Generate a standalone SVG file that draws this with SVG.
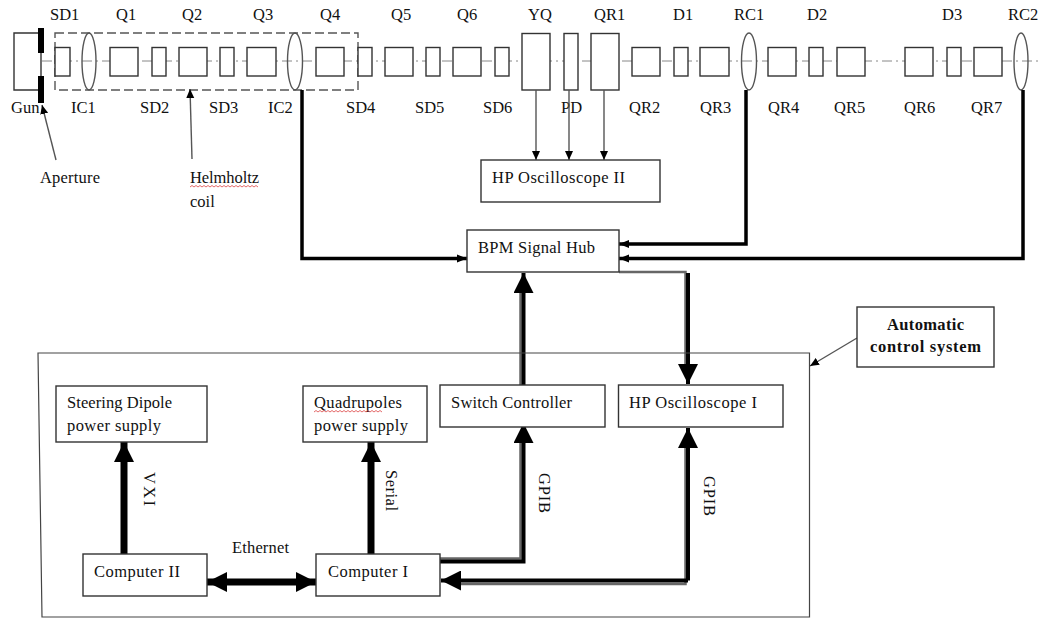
<svg xmlns="http://www.w3.org/2000/svg" width="1041" height="620" viewBox="0 0 1041 620">
<defs>
<marker id="big" markerUnits="userSpaceOnUse" markerWidth="20" markerHeight="20" refX="20" refY="10" orient="auto"><path d="M0 0L20 10L0 20Z" fill="#000"/></marker>
<marker id="bigStart" markerUnits="userSpaceOnUse" markerWidth="20" markerHeight="20" refX="0" refY="10" orient="auto"><path d="M20 0L0 10L20 20Z" fill="#000"/></marker>
<marker id="mid" markerUnits="userSpaceOnUse" markerWidth="10" markerHeight="10" refX="10" refY="5" orient="auto"><path d="M0 1L10 5L0 9Z" fill="#000"/></marker>
<marker id="small" markerUnits="userSpaceOnUse" markerWidth="9" markerHeight="9" refX="9" refY="4.5" orient="auto"><path d="M0 0.5L9 4.5L0 8.5Z" fill="#000"/></marker>
</defs>
<style>
text{font-family:"Liberation Serif","Times New Roman",serif;font-size:16.5px;fill:#111}
.bold{font-weight:700}
.b{fill:#fff;stroke:#333;stroke-width:1.4}
.t{fill:none;stroke:#333;stroke-width:1.4}
.e{fill:none;stroke:#555;stroke-width:1.4}
.thick{fill:none;stroke:#000;stroke-width:7}
.hv{fill:none;stroke:#000;stroke-width:3.5}
.gr{fill:none;stroke:#666;stroke-width:2.5}
.bk{fill:none;stroke:#000;stroke-width:4}
.thin{fill:none;stroke:#555;stroke-width:1.4}
.sq{fill:none;stroke:#d44;stroke-width:.8}
</style>
<rect width="1041" height="620" fill="#fff"/>
<g id="beamline">
<path d="M42 61H1041" fill="none" stroke="#888" stroke-width="1" stroke-dasharray="10 4 2 4"/>
<path class="t" d="M42 33H14V90H42"/>
<path d="M41 28V103" stroke="#333" stroke-width="1.4"/>
<rect x="38" y="28" width="6" height="25" fill="#000"/>
<rect x="38" y="76" width="6" height="27" fill="#000"/>
<rect x="55" y="33" width="303" height="57" fill="none" stroke="#555" stroke-width="1.4" stroke-dasharray="9 4"/>
</g>
<g id="elements">
<rect class="b" x="55" y="47.500" width="15" height="28.500"/>
<rect class="b" x="110" y="47.500" width="28" height="28.500"/>
<rect class="b" x="152" y="47.500" width="14" height="28.500"/>
<rect class="b" x="179" y="47.500" width="28" height="28.500"/>
<rect class="b" x="220" y="47.500" width="14" height="28.500"/>
<rect class="b" x="247" y="47.500" width="29" height="28.500"/>
<rect class="b" x="316" y="47.500" width="28" height="28.500"/>
<rect class="b" x="358" y="47.500" width="14" height="28.500"/>
<rect class="b" x="385" y="47.500" width="28" height="28.500"/>
<rect class="b" x="426" y="47.500" width="14" height="28.500"/>
<rect class="b" x="453" y="47.500" width="28" height="28.500"/>
<rect class="b" x="495" y="47.500" width="14" height="28.500"/>
<rect class="b" x="522" y="33.500" width="28" height="56.500"/>
<rect class="b" x="564" y="33.500" width="14" height="56.500"/>
<rect class="b" x="591" y="33.500" width="28" height="56.500"/>
<rect class="b" x="632" y="47.500" width="28" height="28.500"/>
<rect class="b" x="674" y="47.500" width="14" height="28.500"/>
<rect class="b" x="700" y="47.500" width="29" height="28.500"/>
<rect class="b" x="768" y="47.500" width="28" height="28.500"/>
<rect class="b" x="809" y="47.500" width="14" height="28.500"/>
<rect class="b" x="837" y="47.500" width="28" height="28.500"/>
<rect class="b" x="905" y="47.500" width="28" height="28.500"/>
<rect class="b" x="947" y="47.500" width="14" height="28.500"/>
<rect class="b" x="974" y="47.500" width="28" height="28.500"/>
<ellipse class="e" cx="89" cy="61.500" rx="7" ry="28.500"/>
<ellipse class="e" cx="295" cy="61.500" rx="7.500" ry="28.500"/>
<ellipse class="e" cx="749" cy="61.500" rx="7.500" ry="28.500"/>
<ellipse class="e" cx="1021" cy="61.500" rx="7" ry="28.500"/>
</g>
<g id="labels">
<text x="50" y="20">SD1</text><text x="116" y="20">Q1</text><text x="182" y="20">Q2</text><text x="253" y="20">Q3</text><text x="320" y="20">Q4</text><text x="391" y="20">Q5</text><text x="457" y="20">Q6</text><text x="528" y="20">YQ</text><text x="594" y="20">QR1</text><text x="673" y="20">D1</text><text x="734" y="20">RC1</text><text x="807" y="20">D2</text><text x="942" y="20">D3</text><text x="1008" y="20">RC2</text>
<text x="11" y="113">Gun</text><text x="71" y="113">IC1</text><text x="140" y="113">SD2</text><text x="209" y="113">SD3</text><text x="268" y="113">IC2</text><text x="346" y="113">SD4</text><text x="415" y="113">SD5</text><text x="483" y="113">SD6</text><text x="561" y="113">PD</text><text x="629" y="113">QR2</text><text x="700" y="113">QR3</text><text x="768" y="113">QR4</text><text x="834" y="113">QR5</text><text x="904" y="113">QR6</text><text x="971" y="113">QR7</text>
<text x="40" y="183" textLength="60">Aperture</text>
<text x="190" y="183" textLength="69">Helmholtz</text><text x="190" y="207">coil</text>
<path class="sq" d="M190 187l2 -1.500l2 1.500l2 -1.500l2 1.500l2 -1.500l2 1.500l2 -1.500l2 1.500l2 -1.500l2 1.500l2 -1.500l2 1.500l2 -1.500l2 1.500l2 -1.500l2 1.500l2 -1.500l2 1.500l2 -1.500l2 1.500l2 -1.500l2 1.500l2 -1.500l2 1.500l2 -1.500l2 1.500l2 -1.500l2 1.500l2 -1.500l2 1.500l2 -1.500l2 1.500l2 -1.500l2 1.500"/>
<text transform="translate(144 472) rotate(90)" textLength="34">VXI</text>
<text transform="translate(386 470) rotate(90)" textLength="41">Serial</text>
<text x="232" y="553" textLength="57">Ethernet</text>
<text transform="translate(539 473) rotate(90)" textLength="40">GPIB</text>
<text transform="translate(704 476) rotate(90)" textLength="40">GPIB</text>
</g>
<g id="connectors">
<path class="thin" d="M56 160L42 105" marker-end="url(#small)"/>
<path class="thin" d="M192 159L190 89" marker-end="url(#small)"/>
<path class="thin" d="M536 90V160" marker-end="url(#small)"/>
<path class="thin" d="M569 90V160" marker-end="url(#small)"/>
<path class="thin" d="M604 90V160" marker-end="url(#small)"/>
<path class="hv" d="M302 90V258.500H467" marker-end="url(#mid)"/>
<path class="hv" d="M746 90V244H619" marker-end="url(#mid)"/>
<path class="hv" d="M1023 90V258.500H619" marker-end="url(#mid)"/>
<path class="gr" d="M619 272H685.500V370"/>
<path class="bk" d="M688 273V384" marker-end="url(#big)"/>
<path class="gr" d="M520.500 385V290"/>
<path class="bk" d="M523.500 385V273" marker-end="url(#big)"/>
<path class="thick" d="M124 554V442" marker-end="url(#big)"/>
<path class="thick" d="M371 554V442" marker-end="url(#big)"/>
<path class="thick" d="M207 582H316" marker-start="url(#bigStart)" marker-end="url(#big)"/>
<path class="gr" d="M440 558.500H520.500V440"/>
<path class="bk" d="M440 561.500H523.500V423" marker-end="url(#big)"/>
<path class="gr" d="M685.500 445V584H455"/>
<path class="bk" d="M688 580.500V428" marker-end="url(#big)"/>
<path class="bk" d="M688 580.500H441" marker-end="url(#big)"/>
<path class="thin" d="M857 338L810 366" marker-end="url(#small)"/>
</g>
<g id="control-system"><path d="M38 353H809.500V617H42Z" fill="none" stroke="#444" stroke-width="1.2"/></g>
<g id="hp-osc-2"><rect class="b" x="481" y="160" width="179" height="42"/><text x="492" y="183" textLength="133">HP Oscilloscope II</text></g>
<g id="bpm-hub"><rect class="b" x="467" y="230" width="152" height="42"/><text x="478" y="253" textLength="117">BPM Signal Hub</text></g>
<g id="auto-label"><rect class="b" x="857" y="307" width="137" height="60"/><text class="bold" x="887" y="330" textLength="77">Automatic</text><text class="bold" x="870" y="352" textLength="111">control system</text></g>
<g id="steering"><rect class="b" x="56" y="386" width="151" height="56"/><text x="67" y="408" textLength="105">Steering Dipole</text><text x="67" y="431" textLength="94">power supply</text></g>
<g id="quadrupoles"><rect class="b" x="303" y="386" width="124" height="56"/><text x="314" y="408" textLength="88">Quadrupoles</text><text x="314" y="431" textLength="94">power supply</text>
<path class="sq" d="M314 412l2 -1.500l2 1.500l2 -1.500l2 1.500l2 -1.500l2 1.500l2 -1.500l2 1.500l2 -1.500l2 1.500l2 -1.500l2 1.500l2 -1.500l2 1.500l2 -1.500l2 1.500l2 -1.500l2 1.500l2 -1.500l2 1.500l2 -1.500l2 1.500l2 -1.500l2 1.500l2 -1.500l2 1.500l2 -1.500l2 1.500l2 -1.500l2 1.500l2 -1.500l2 1.500l2 -1.500l2 1.500"/></g>
<g id="switch"><rect class="b" x="440" y="385" width="165" height="42"/><text x="451" y="408" textLength="121">Switch Controller</text></g>
<g id="hp-osc-1"><rect class="b" x="618.500" y="385" width="164.500" height="42"/><text x="629" y="408" textLength="128">HP Oscilloscope I</text></g>
<g id="computer-2"><rect class="b" x="83" y="554" width="124" height="42"/><text x="94" y="577" textLength="86">Computer II</text></g>
<g id="computer-1"><rect class="b" x="316" y="554" width="124" height="42"/><text x="328" y="577" textLength="80">Computer I</text></g>
</svg>
